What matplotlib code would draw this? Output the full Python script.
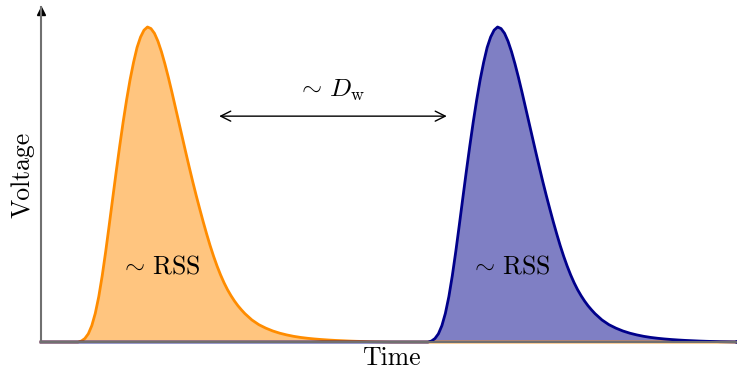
import matplotlib
matplotlib.use("Agg")
import matplotlib.pyplot as plt
import numpy as np

# Normalised pulse shape: time since onset (arbitrary units) and relative amplitude
pulse_time = [0.00, 0.05, 0.10, 0.15, 0.20, 0.25, 0.30, 0.35, 0.40, 0.45,
              0.50, 0.55, 0.60, 0.65, 0.70, 0.75, 0.80, 0.85, 0.90, 0.95,
              1.00, 1.05, 1.10, 1.15, 1.20, 1.25, 1.30, 1.35, 1.40, 1.45,
              1.50, 1.55, 1.60, 1.65, 1.70, 1.75, 1.80, 1.85, 1.90, 1.95,
              2.00, 2.05, 2.10, 2.15, 2.20, 2.25, 2.30, 2.35, 2.40,
              2.5, 2.6, 2.7, 2.8, 2.9, 3.0, 3.1, 3.2, 3.3, 3.4, 3.5,
              3.6, 3.7, 3.8, 3.9, 4.0, 4.2, 4.5]
pulse_shape = [0.000, 0.003, 0.011, 0.026, 0.052, 0.091, 0.144, 0.211, 0.288, 0.371,
               0.456, 0.540, 0.621, 0.698, 0.769, 0.833, 0.888, 0.935, 0.968, 0.990,
               1.000, 0.995, 0.980, 0.955, 0.922, 0.883, 0.840, 0.794, 0.746, 0.698,
               0.650, 0.602, 0.555, 0.509, 0.465, 0.423, 0.382, 0.343, 0.306, 0.272,
               0.241, 0.213, 0.188, 0.166, 0.147, 0.130, 0.115, 0.102, 0.090,
               0.070, 0.055, 0.044, 0.035, 0.028, 0.0225, 0.018, 0.0145, 0.0118, 0.0096, 0.0078,
               0.0063, 0.005, 0.004, 0.003, 0.0022, 0.001, 0.0]

# Onset times of the two pulses and their colours
pulse_onsets = [0.53, 5.56]
pulse_colors = ["darkorange", "darkblue"]
pulse_labels = [r"$\sim\,\mathrm{RSS}$", r"$\sim\,\mathrm{RSS}$"]

t_min, t_max = 0.0, 10.0
v_max = 1.0635
fs = 18.5

plt.rcParams["mathtext.fontset"] = "cm"
plt.rcParams["font.family"] = "serif"
plt.rcParams["font.serif"] = ["cmr10", "DejaVu Serif"]
plt.rcParams["axes.unicode_minus"] = False

fig = plt.figure(figsize=(7.37, 3.71), dpi=100)
ax = fig.add_axes([41 / 737, 29 / 371, 696 / 737, 335 / 371])

for onset, color, label in zip(pulse_onsets, pulse_colors, pulse_labels):
    t = np.concatenate(([t_min], onset + np.array(pulse_time), [t_max]))
    v = np.concatenate(([0.0], pulse_shape, [0.0]))
    ax.plot(t, v, color=color, lw=2.0, solid_joinstyle="round", clip_on=False)
    ax.fill_between(t, 0, v, color=color, alpha=0.5, lw=0)
    ax.text(onset + 1.18, 0.24, label, fontsize=fs, ha="center", va="center")

# Pulse separation marker
ax.annotate("", xy=(2.56, 0.717), xytext=(5.83, 0.717),
            arrowprops=dict(arrowstyle="<->", color="black", lw=1.0,
                            mutation_scale=18, shrinkA=0, shrinkB=0))
ax.text(4.17, 0.80, r"$\sim\,D_{\mathrm{w}}$", fontsize=fs, ha="center", va="center")

ax.set_xlim(t_min, t_max)
ax.set_ylim(0, v_max)
ax.set_xticks([])
ax.set_yticks([])
for side in ("top", "right"):
    ax.spines[side].set_visible(False)
ax.spines["left"].set_color("#707070")
ax.spines["left"].set_linewidth(1.5)
ax.spines["bottom"].set_color("#707070")
ax.spines["bottom"].set_linewidth(1.5)

# Arrow head on the voltage axis
ax.plot(0, v_max - 0.012, marker="^", color="black", markersize=6,
        clip_on=False)

ax.set_xlabel("Time", fontsize=fs, va="center")
ax.xaxis.set_label_coords(0.503, -0.048)
ax.set_ylabel("Voltage", fontsize=fs, va="center")
ax.yaxis.set_label_coords(-0.027, 0.5)

fig.savefig("out.png", dpi=100)
